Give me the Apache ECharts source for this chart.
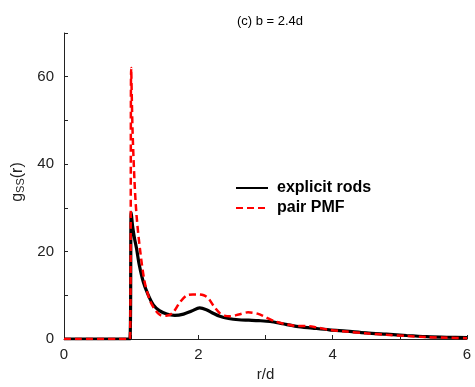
<!DOCTYPE html>
<html><head><meta charset="utf-8">
<script src="https://cdn.jsdelivr.net/npm/echarts@6/dist/echarts.min.js"></script>
<style>html,body{margin:0;padding:0;background:#fff}#c{width:475px;height:387px}</style>
</head><body><div id="c"></div>
<script>
const titleText = '(c) b = 2.4d';
const xTicks = [0, 1, 2, 3, 4, 5, 6];
const xLabels = [0, 2, 4, 6];
const yTicks = [0, 10, 20, 30, 40, 50, 60, 70];
const yLabels = [0, 20, 40, 60];
const seriesNames = ['explicit rods', 'pair PMF'];

const rBlack = [0, 0.98, 1.0, 1.02, 1.05, 1.08, 1.12, 1.18, 1.25, 1.33, 1.42, 1.53, 1.65, 1.78, 1.9, 2.02, 2.12, 2.22, 2.32, 2.45, 2.6, 2.75, 2.9, 3.07, 3.25, 3.46, 3.7, 3.95, 4.2, 4.5, 4.8, 5.1, 5.4, 5.7, 6.0];
const gBlack = [0, 0, 29, 26, 23, 20.7, 17, 13.1, 10.2, 7.8, 6.5, 5.7, 5.4, 5.7, 6.4, 7.1, 6.7, 5.9, 5.2, 4.7, 4.4, 4.3, 4.2, 4.0, 3.5, 2.9, 2.5, 2.1, 1.8, 1.4, 1.1, 0.8, 0.55, 0.4, 0.3];

const rRed = [0, 0.98, 1.0, 1.02, 1.05, 1.08, 1.13, 1.2, 1.28, 1.35, 1.43, 1.52, 1.62, 1.73, 1.83, 1.92, 2.0, 2.08, 2.15, 2.23, 2.32, 2.4, 2.47, 2.6, 2.74, 2.88, 3.0, 3.15, 3.3, 3.45, 3.6, 3.75, 3.95, 4.2, 4.5, 4.8, 5.1, 5.4, 5.7, 6.0];
const gRed = [0, 0, 62, 48, 36, 28.3, 20.7, 13.1, 8.8, 6.8, 5.5, 5.3, 6.0, 8.5, 10.0, 10.2, 10.2, 10.0, 9.3, 7.5, 5.9, 5.3, 5.2, 5.6, 6.1, 5.8, 5.0, 4.0, 3.4, 3.0, 3.0, 2.7, 2.1, 1.7, 1.3, 0.95, 0.7, 0.45, 0.3, 0.2];

const chart = echarts.init(document.getElementById('c'), null, {renderer: 'canvas'});
const font = 'Liberation Sans, Arial, sans-serif';
chart.setOption({
  animation: false,
  backgroundColor: '#fff',
  title: {text: titleText, left: 265, top: 10, textAlign: 'center',
    textStyle: {fontFamily: font, fontSize: 13, fontWeight: 'normal', color: '#000'}},
  grid: {left: 64, right: 8, top: 33, bottom: 46, containLabel: false},
  legend: {
    left: 235, top: 180, padding: 0, orient: 'vertical', itemWidth: 32, itemHeight: 14, itemGap: 4,
    itemStyle: {opacity: 0},
    textStyle: {fontFamily: font, fontSize: 16, fontWeight: 'bold', color: '#000', padding: [0, 0, 0, 4]},
    data: seriesNames
  },
  xAxis: {
    type: 'value', min: 0, max: 6,
    name: 'r/d', nameLocation: 'middle', nameGap: 28,
    nameTextStyle: {fontFamily: font, fontSize: 15, color: '#222'},
    axisLine: {lineStyle: {color: '#222', width: 1}},
    axisTick: {inside: true, length: 4, customValues: xTicks, lineStyle: {color: '#222'}},
    axisLabel: {customValues: xLabels, fontFamily: font, fontSize: 15, color: '#222', margin: 8},
    splitLine: {show: false}
  },
  yAxis: {
    type: 'value', min: 0, max: 70,
    name: '{a|g}{b|SS}{a|(r)}', nameLocation: 'middle', nameGap: 32, nameRotate: 90,
    nameTextStyle: {padding: [0, 0, 0, 8], rich: {
      a: {fontFamily: font, fontSize: 16, color: '#222'},
      b: {fontFamily: font, fontSize: 11, color: '#222', verticalAlign: 'bottom', padding: [6, 0, 0, 0]}
    }},
    axisLine: {show: true, lineStyle: {color: '#222', width: 1}},
    axisTick: {show: true, inside: true, length: 4, customValues: yTicks, lineStyle: {color: '#222'}},
    axisLabel: {customValues: yLabels, fontFamily: font, fontSize: 15, color: '#222', margin: 10},
    splitLine: {show: false}
  },
  series: [
    {name: seriesNames[0], type: 'line', symbol: 'none', showSymbol: false, smooth: 0.3,
     data: rBlack.map((r, i) => [r, gBlack[i]]),
     lineStyle: {color: '#000', width: 3.2}, itemStyle: {color: '#000'}, z: 2},
    {name: seriesNames[1], type: 'line', symbol: 'none', showSymbol: false, smooth: 0.3,
     data: rRed.map((r, i) => [r, gRed[i]]),
     lineStyle: {color: '#ff0000', width: 2.5, type: [7, 4]}, itemStyle: {color: '#ff0000'}, z: 3}
  ]
});
</script></body></html>
